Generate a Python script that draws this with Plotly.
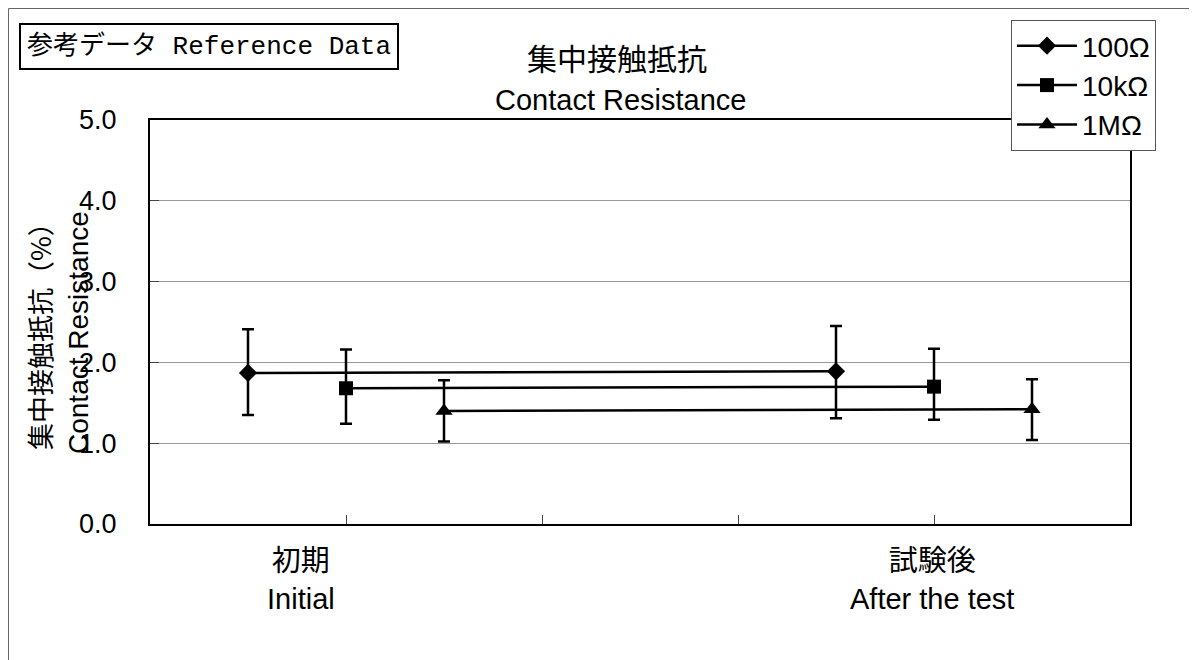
import plotly.graph_objects as go

# ---- data ----
series_names = ["100Ω", "10kΩ", "1MΩ"]
x_positions = [[0.5, 3.5], [1.0, 4.0], [1.5, 4.5]]
means = [[1.87, 1.89], [1.68, 1.70], [1.40, 1.42]]
upper = [[2.41, 2.45], [2.16, 2.17], [1.78, 1.79]]
lower = [[1.35, 1.31], [1.24, 1.29], [1.02, 1.04]]
symbols = ["diamond", "square", "triangle-up"]
marker_sizes = [14, 14, 15]

group_labels = ["初期<br>Initial", "試験後<br>After the test"]
group_label_x = [0.77, 3.99]
y_ticks = [0, 1, 2, 3, 4, 5]

FONT = "Liberation Sans, Arial, Noto Sans CJK JP, sans-serif"
JPFONT = "Noto Sans CJK JP, Liberation Sans, sans-serif"

fig = go.Figure()
for i, name in enumerate(series_names):
    ep = [u - m for u, m in zip(upper[i], means[i])]
    em = [m - l for m, l in zip(means[i], lower[i])]
    fig.add_trace(go.Scatter(
        x=x_positions[i], y=means[i], name=name,
        mode="lines+markers",
        line=dict(color="black", width=2.5),
        marker=dict(symbol=symbols[i], size=marker_sizes[i], color="black"),
        error_y=dict(type="data", symmetric=False, array=ep, arrayminus=em,
                     color="black", thickness=2.5, width=6),
    ))

# page body has an 8px margin: figure origin sits at (8, 8) in the viewport
OFF = 8
W, H = 1197 - OFF, 660 - OFF
L, T = 150 - OFF, 120 - OFF
R = W - (1130 - OFF)
B = H - (524 - OFF)
pw, ph = W - L - R, H - T - B


def px(xp):
    return (xp - OFF - L) / pw


def py(yp):
    return (H - B - (yp - OFF)) / ph


fig.update_layout(
    width=W, height=H,
    margin=dict(l=L, r=R, t=T, b=B),
    paper_bgcolor="white", plot_bgcolor="white",
    font=dict(family=FONT, size=27, color="black"),
    showlegend=True,
    legend=dict(x=px(1011), y=py(20), xanchor="left", yanchor="top",
                bordercolor="#555555", borderwidth=1, bgcolor="white",
                font=dict(family=FONT, size=28), tracegroupgap=0,
                itemwidth=60),
    xaxis=dict(range=[0, 5], tickvals=[1, 2, 3, 4], showticklabels=False,
               ticks="inside", ticklen=9, tickcolor="#444444", tickwidth=1,
               showgrid=False, zeroline=False,
               showline=True, linecolor="black", linewidth=2, mirror=True),
    yaxis=dict(range=[0, 5], tickvals=y_ticks, tickformat=".1f",
               ticks="inside", ticklen=9, tickcolor="#444444", tickwidth=1,
               ticklabelstandoff=26,
               showgrid=True, gridcolor="#999999", gridwidth=1, zeroline=False,
               showline=True, linecolor="black", linewidth=2, mirror=True,
               tickfont=dict(family=FONT, size=27)),
)

annotations = [
    dict(text="集中接触抵抗", x=px(617), y=py(57), xref="paper", yref="paper",
         showarrow=False, font=dict(family=JPFONT, size=30), xanchor="center", yanchor="middle"),
    dict(text="Contact Resistance", x=px(620), y=py(100), xref="paper", yref="paper",
         showarrow=False, font=dict(family=FONT, size=29), xanchor="center", yanchor="middle"),
    dict(text="参考データ Reference Data", x=px(19), y=py(23), xref="paper", yref="paper",
         showarrow=False, font=dict(family="Liberation Mono, Noto Sans CJK JP, monospace", size=26),
         xanchor="left", yanchor="top", bordercolor="black", borderwidth=2, borderpad=6,
         bgcolor="white"),
    dict(text="集中接触抵抗（%）", x=px(39), y=py(330), xref="paper", yref="paper",
         showarrow=False, textangle=-90, font=dict(family=JPFONT, size=27),
         xanchor="center", yanchor="middle"),
    dict(text="Contact Resistance", x=px(78), y=py(333), xref="paper", yref="paper",
         showarrow=False, textangle=-90, font=dict(family=FONT, size=28),
         xanchor="center", yanchor="middle"),
]
for lbl, gx in zip(group_labels, group_label_x):
    annotations.append(dict(text=lbl, x=gx, y=py(580), xref="x", yref="paper",
                            showarrow=False, font=dict(family=FONT, size=29),
                            xanchor="center", yanchor="middle"))
fig.update_layout(annotations=annotations)

fig.add_shape(type="rect", xref="paper", yref="paper",
              x0=px(8.5), x1=px(1250), y0=py(720), y1=py(8.5),
              line=dict(color="#666666", width=1), layer="below")

fig.write_html("out.html")
